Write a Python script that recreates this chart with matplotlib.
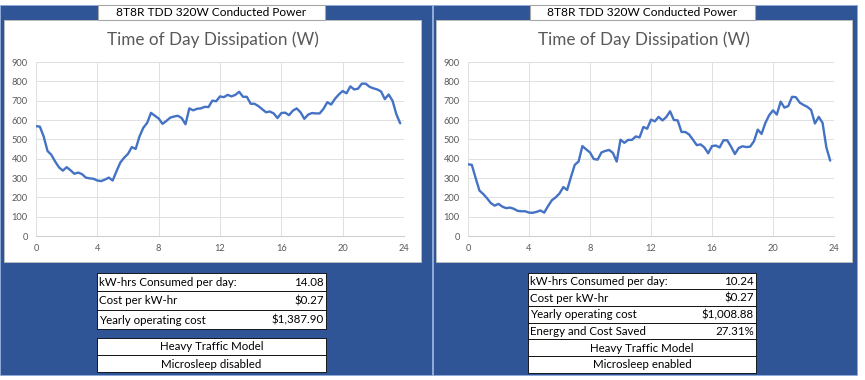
import numpy as np
import matplotlib
matplotlib.use("Agg")
import matplotlib.pyplot as plt
from matplotlib.patches import Rectangle

plt.rcParams['font.family'] = ['Lato', 'DejaVu Sans']

W, H = 865, 380

hours = np.arange(0, 24, 0.25)

power_disabled = [568, 566, 515, 440, 420, 385, 355, 338, 356, 340, 322, 328,
                  320, 302, 298, 296, 287, 284, 292, 302, 287, 335, 380, 405,
                  425, 460, 450, 515, 560, 585, 637, 622, 608, 580, 595, 612,
                  618, 622, 610, 578, 660, 650, 658, 660, 668, 667, 700, 697,
                  722, 718, 730, 722, 730, 746, 720, 720, 684, 684, 672, 656,
                  640, 644, 634, 610, 636, 638, 625, 648, 660, 640, 606, 628,
                  636, 634, 634, 658, 692, 680, 710, 732, 750, 738, 774, 758,
                  762, 788, 788, 772, 764, 758, 748, 708, 732, 700, 630, 583]

power_enabled = [371, 368, 300, 235, 217, 195, 170, 157, 166, 152, 144, 147,
                 141, 130, 128, 128, 121, 120, 125, 132, 121, 155, 185, 200,
                 220, 253, 238, 305, 368, 385, 465, 448, 432, 398, 395, 432,
                 440, 445, 430, 385, 498, 482, 497, 497, 515, 510, 564, 555,
                 602, 593, 616, 598, 615, 645, 600, 598, 538, 538, 525, 498,
                 470, 474, 458, 428, 465, 468, 458, 495, 495, 462, 424, 455,
                 464, 460, 462, 490, 550, 528, 585, 625, 650, 628, 695, 664,
                 672, 720, 718, 690, 678, 668, 652, 582, 616, 585, 458, 390]

panel_title = "8T8R TDD 320W Conducted Power"
chart_title = "Time of Day Dissipation (W)"
x_ticks = [0, 4, 8, 12, 16, 20, 24]
y_ticks = [0, 100, 200, 300, 400, 500, 600, 700, 800, 900]

rows_left = [("kW-hrs Consumed per day:", "14.08"),
             ("Cost per kW-hr", "$0.27"),
             ("Yearly operating cost", "$1,387.90")]
notes_left = ["Heavy Traffic Model", "Microsleep disabled"]

rows_right = [("kW-hrs Consumed per day:", "10.24"),
              ("Cost per kW-hr", "$0.27"),
              ("Yearly operating cost", "$1,008.88"),
              ("Energy and Cost Saved", "27.31%")]
notes_right = ["Heavy Traffic Model", "Microsleep enabled"]

BLUE = "#2F5597"
LINE = "#4472C4"
GREY_TXT = "#595959"
GRID = "#E0E0E0"

fig = plt.figure(figsize=(W / 100, H / 100), dpi=100)
fig.patch.set_facecolor("white")

bg = fig.add_axes([0, 0, 1, 1], zorder=0)
bg.set_xlim(0, W)
bg.set_ylim(H, 0)
bg.axis("off")


def rect(x0, y0, x1, y1, fc, ec="none", lw=0.8, z=1):
    bg.add_patch(Rectangle((x0, y0), x1 - x0, y1 - y0, facecolor=fc,
                           edgecolor=ec, linewidth=lw, zorder=z))


def axes_px(x0, y0, x1, y1, z=2):
    return fig.add_axes([x0 / W, 1 - y1 / H, (x1 - x0) / W, (y1 - y0) / H], zorder=z)


# blue panels
rect(0, 5, 432, 375, BLUE, ec="#8EA9DB", lw=0.6)
rect(433, 5, 857, 375, BLUE, ec="#8EA9DB", lw=0.6)

panels = [
    dict(chart=(4, 20, 421, 262), titlebox=(98, 5, 325, 20), plot=(36, 62, 404, 236),
         data=power_disabled, table=(97, 326, 247), rows=rows_left, row_y=[272.5, 291, 310, 329],
         notes=notes_left, note_y=[338, 355, 372]),
    dict(chart=(436, 20, 852, 262), titlebox=(530, 5, 755, 20), plot=(468, 62, 834, 236),
         data=power_enabled, table=(528, 756, 678), rows=rows_right,
         row_y=[272.5, 289.2, 305.9, 322.6, 339.3], notes=notes_right, note_y=[339.3, 356, 372.5]),
]

for p in panels:
    cx0, cy0, cx1, cy1 = p["chart"]
    rect(cx0, cy0, cx1, cy1, "white", ec="#BFBFBF", lw=0.6, z=2)
    tx0, ty0, tx1, ty1 = p["titlebox"]
    rect(tx0, ty0, tx1, ty1, "white", ec="#A6A6A6", lw=0.8, z=3)
    bg.text((tx0 + tx1) / 2, (ty0 + ty1) / 2 + 0.5, panel_title, ha="center", va="center",
            fontsize=8.6, color="black", zorder=4)
    bg.text((cx0 + cx1) / 2, 40, chart_title, ha="center", va="center",
            fontsize=12.3, color=GREY_TXT, zorder=4)

    ax = axes_px(*p["plot"])
    ax.set_facecolor("none")
    ax.plot(hours, p["data"], color=LINE, linewidth=1.7,
            solid_joinstyle="round", solid_capstyle="round")
    ax.set_xlim(0, 24)
    ax.set_ylim(0, 900)
    ax.set_xticks(x_ticks)
    ax.set_yticks(y_ticks)
    ax.grid(True, color=GRID, linewidth=0.7)
    ax.set_axisbelow(True)
    for s in ["top", "right", "left"]:
        ax.spines[s].set_visible(False)
    ax.spines["bottom"].set_color("#D0D0D0")
    ax.spines["bottom"].set_linewidth(0.8)
    ax.tick_params(length=0, labelsize=6.7, colors=GREY_TXT, pad=6)

    # stats table
    lx0, lx1, _ = p["table"]
    ys = p["row_y"]
    for i, (label, val) in enumerate(p["rows"]):
        y0, y1 = ys[i], ys[i + 1]
        rect(lx0, y0, lx1, y1, "white", ec="black", lw=0.6, z=3)
        bg.text(lx0 + 2, (y0 + y1) / 2 + 0.5, label, ha="left", va="center",
                fontsize=8.3, color="black", zorder=4)
        bg.text(lx1 - 2, (y0 + y1) / 2 + 0.5, val, ha="right", va="center",
                fontsize=8.3, color="black", zorder=4)
    ny = p["note_y"]
    for i, note in enumerate(p["notes"]):
        y0, y1 = ny[i], ny[i + 1]
        rect(lx0, y0, lx1, y1, "white", ec="black", lw=0.6, z=3)
        bg.text((lx0 + lx1) / 2, (y0 + y1) / 2 + 0.5, note, ha="center", va="center",
                fontsize=8.3, color="black", zorder=4)

fig.savefig("out.png", dpi=100, facecolor="white")
